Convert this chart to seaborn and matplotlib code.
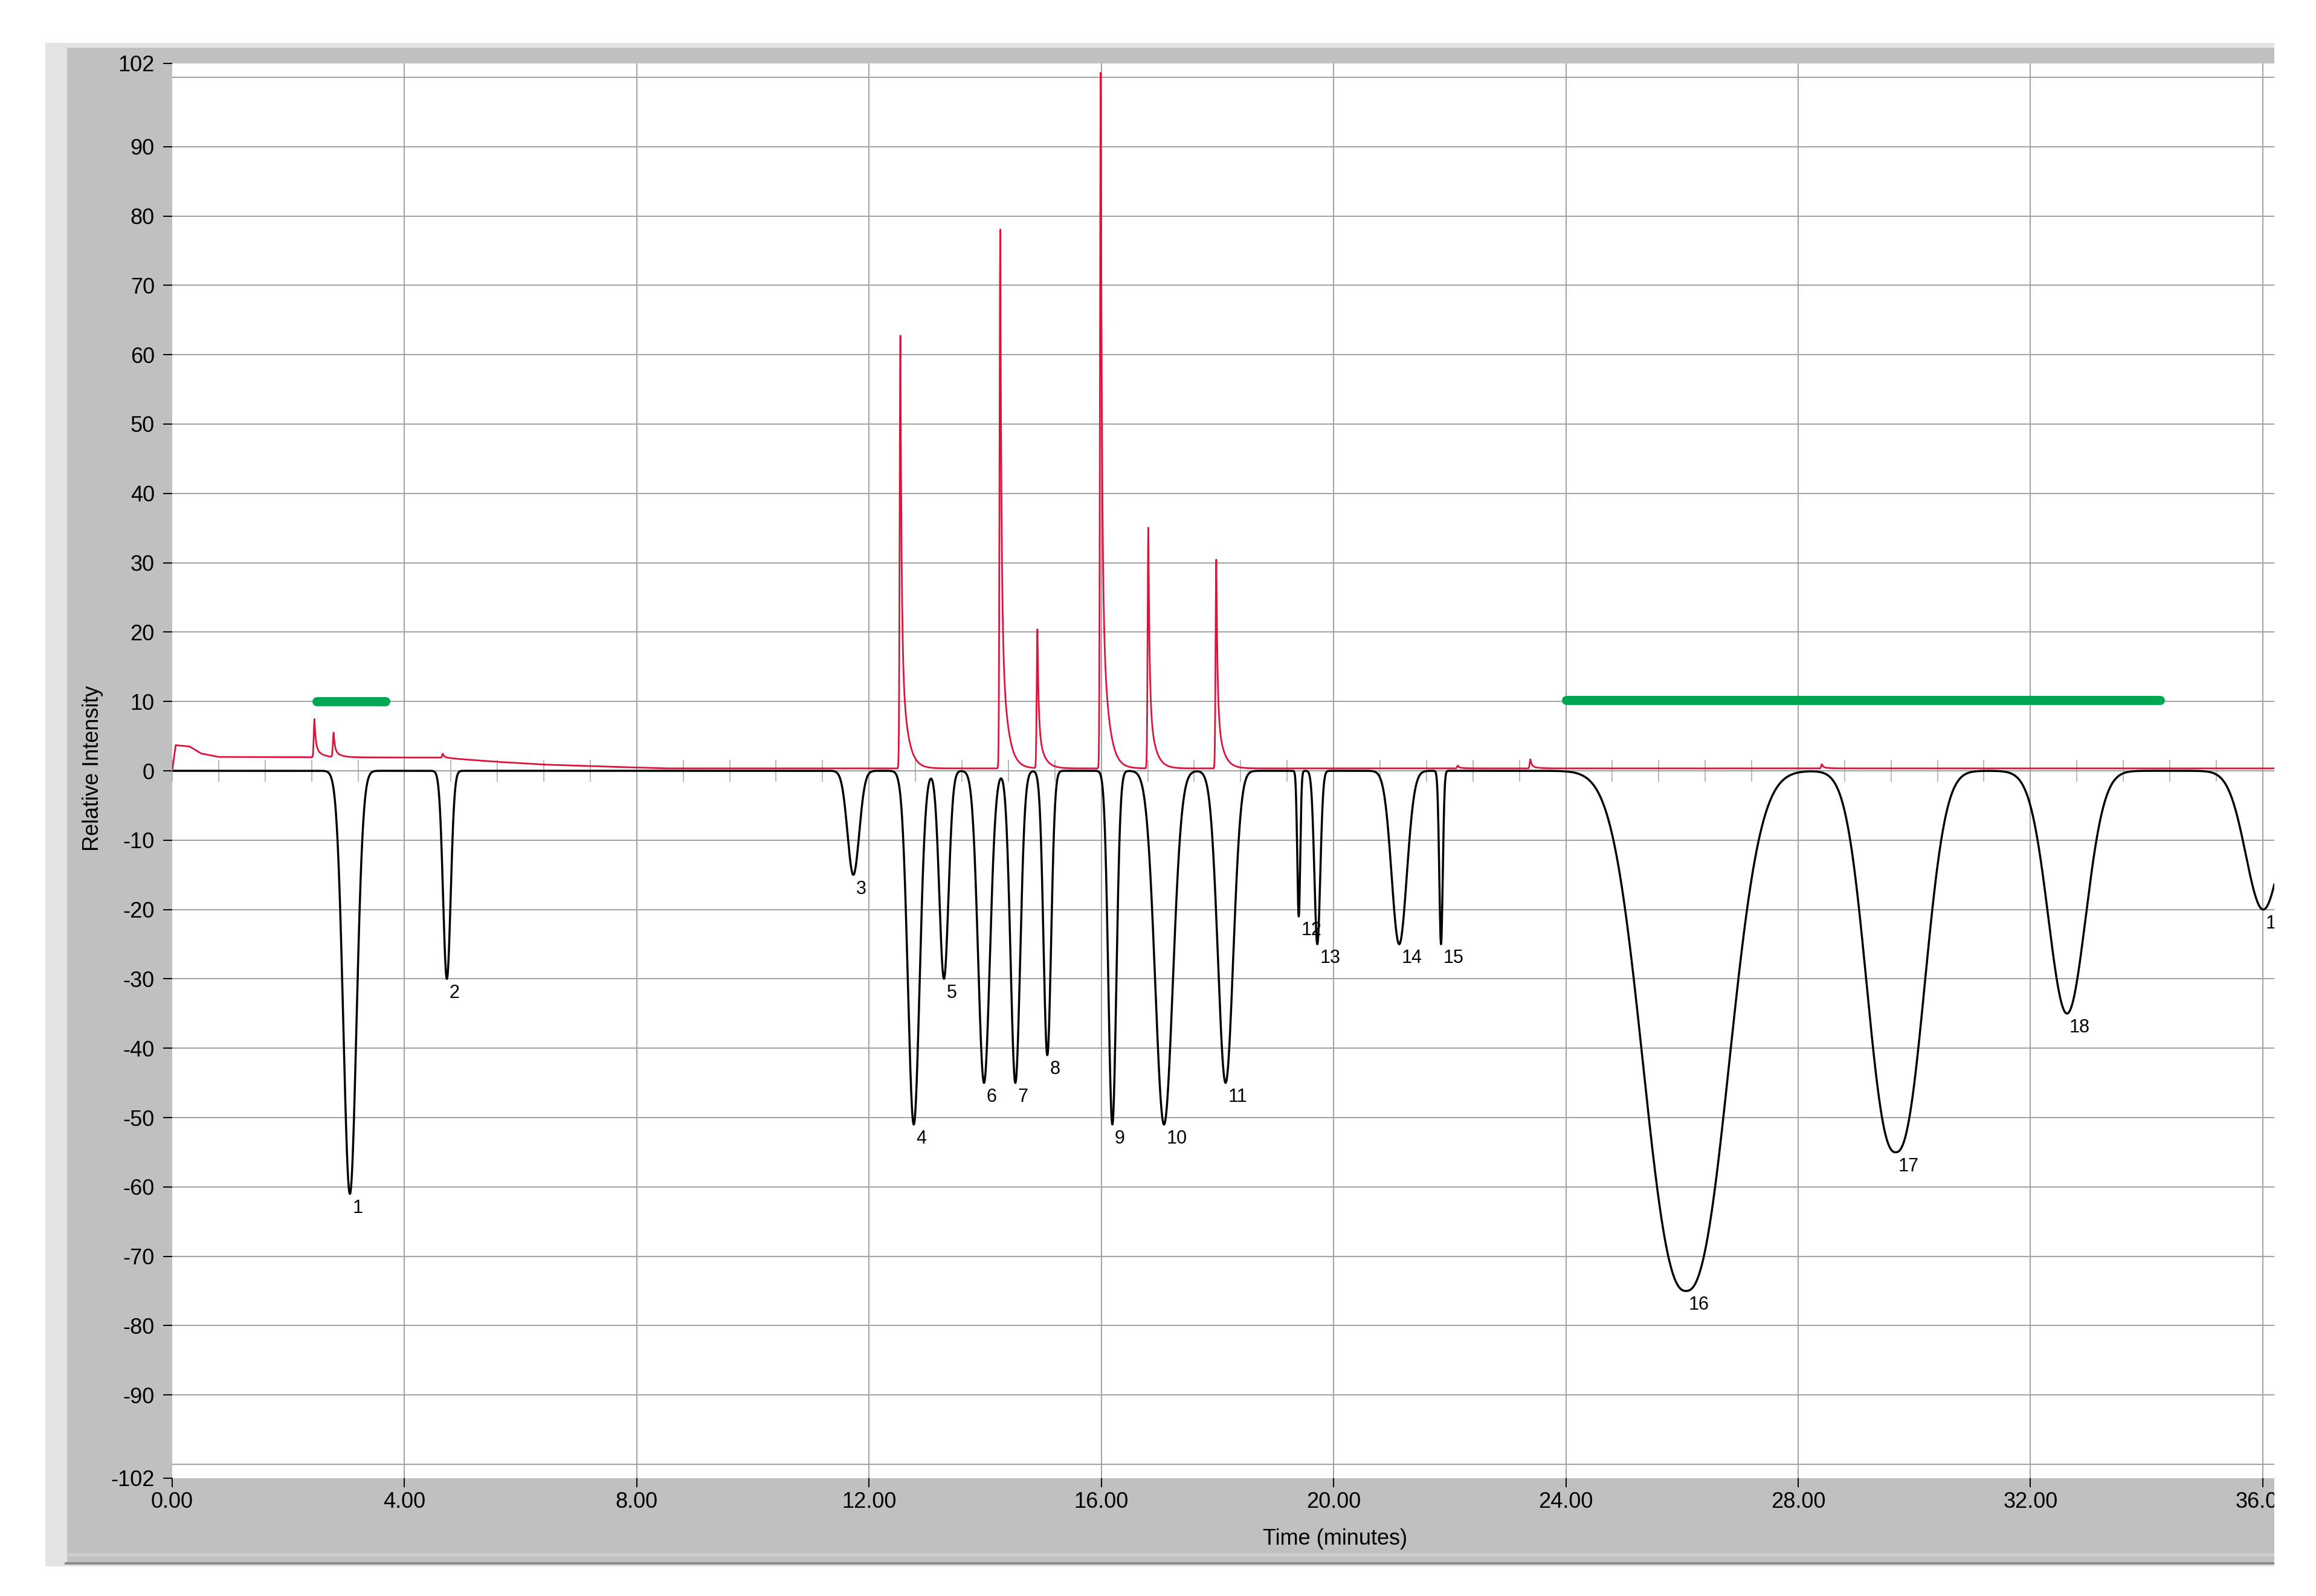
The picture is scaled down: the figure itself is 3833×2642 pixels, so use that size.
import numpy as np
import pandas as pd
import seaborn as sns
import matplotlib
matplotlib.use('Agg')
from matplotlib import pyplot as plt
from matplotlib import font_manager
from matplotlib.patches import Rectangle
from matplotlib.ticker import FixedLocator, FixedFormatter, MultipleLocator

# ---- data ----
# black trace: inverted, numbered peaks
peak_num = [str(i) for i in range(1, 20)]
peak_time = [3.06, 4.73, 11.73, 12.77, 13.29, 13.98, 14.52, 15.07, 16.19, 17.08,
             18.14, 19.40, 19.72, 21.13, 21.85, 26.07, 29.68, 32.63, 36.01]
peak_depth = [-61, -30, -15, -51, -30, -45, -45, -41, -51, -51,
              -45, -21, -25, -25, -25, -75, -55, -35, -20]
peak_width = [0.112, 0.065, 0.10, 0.10, 0.078, 0.10, 0.082, 0.065, 0.068, 0.15,
              0.13, 0.025, 0.05, 0.13, 0.03, 0.70, 0.47, 0.32, 0.30]
peak_shape = [2, 2, 2, 2, 2, 2, 2, 2, 2, 2,
              2, 2, 2, 2, 2, 2.4, 2.4, 2, 2]

# red trace: sharp tailing peaks on a drifting baseline
red_peak_time = [2.45, 2.78, 4.66, 12.54, 14.26, 14.90, 15.99, 16.81, 17.98, 22.14, 23.39, 28.41]
red_peak_height = [5.5, 3.5, 0.6, 62.4, 77.7, 20.0, 100.3, 34.7, 30.1, 0.4, 1.3, 0.6]
red_base_time = [0.0, 0.06, 0.30, 0.50, 0.80, 4.60, 5.60, 6.40, 7.50, 8.50, 36.2]
red_base_level = [0.0, 3.7, 3.5, 2.5, 2.0, 1.9, 1.3, 0.9, 0.6, 0.35, 0.35]

# green marker bars
bar_start = [2.49, 24.0]
bar_end = [3.67, 34.23]
bar_level = [10.0, 10.2]

# axes
x_ticks = [0, 4, 8, 12, 16, 20, 24, 28, 32, 36]
x_labels = ['0.00', '4.00', '8.00', '12.00', '16.00', '20.00', '24.00', '28.00', '32.00', '36.00']
y_ticks = [102, 90, 80, 70, 60, 50, 40, 30, 20, 10, 0, -10, -20, -30, -40, -50, -60, -70, -80, -90, -102]
y_grid = [100, 90, 80, 70, 60, 50, 40, 30, 20, 10, 0, -10, -20, -30, -40, -50, -60, -70, -80, -90, -100]

# ---- build the traces from the peak table ----
t = np.linspace(0, 36.2, 7241)
black = np.zeros_like(t)
for t0, a, s, p in zip(peak_time, peak_depth, peak_width, peak_shape):
    black += a * np.exp(-0.5 * np.abs((t - t0) / s) ** p)

red = np.interp(t, red_base_time, red_base_level)
for t0, h in zip(red_peak_time, red_peak_height):
    d = t - t0
    dp = np.clip(d, 0, None)
    rise = np.exp(-0.5 * (np.clip(d, None, 0) / 0.012) ** 2)
    tail = 0.7 * np.exp(-dp / 0.02) + 0.3 * np.exp(-dp / 0.1)
    red += h * np.where(d < 0, rise, tail)

traces = pd.DataFrame({'time': t, 'black': black, 'red': red})

# ---- style ----
sns.set_theme(style='white')
names = {f.name for f in font_manager.fontManager.ttflist}
narrow = 'Liberation Sans Narrow' in names
axis_font = 'Liberation Sans Narrow' if narrow else 'Liberation Sans'
axis_size = 30 if narrow else 26
plt.rcParams['font.family'] = [axis_font, 'DejaVu Sans']
plt.rcParams['axes.unicode_minus'] = False

W, H = 3833, 2642
fig = plt.figure(figsize=(W / 100, H / 100), dpi=100, facecolor='white')


def rect(x0, y0, x1, y1, color, z):
    r = Rectangle((x0 / W, 1 - y1 / H), (x1 - x0) / W, (y1 - y0) / H,
                  transform=fig.transFigure, facecolor=color, edgecolor='none', zorder=z)
    fig.add_artist(r)


# window frame
rect(75, 71, 3764, 2593, '#e3e3e3', -10)
rect(111, 79, 3764, 2586, '#c0c0c0', -9)
rect(111, 2571, 3764, 2577, '#cdcdcd', -8)
rect(107, 2586, 3764, 2590, '#8a8a8a', -8)

ax = fig.add_axes([285 / W, 1 - 2447 / H, (3764 - 285) / W, (2447 - 105) / H])
ax.set_facecolor('white')
for s in ax.spines.values():
    s.set_visible(False)

for yv in y_grid:
    ax.axhline(yv, color='#a4a4a4', lw=1.5, zorder=0.5)
for xv in x_ticks[1:]:
    ax.axvline(xv, color='#a4a4a4', lw=1.5, zorder=0.5)

sns.lineplot(data=traces, x='time', y='black', ax=ax, color='black', lw=2.5,
             estimator=None, errorbar=None, sort=False, zorder=2)
sns.lineplot(data=traces, x='time', y='red', ax=ax, color='#dc143c', lw=2.0,
             estimator=None, errorbar=None, sort=False, zorder=3)

for x0, x1, yv in zip(bar_start, bar_end, bar_level):
    ax.plot([x0, x1], [yv, yv], color='#00a651', lw=10.8, solid_capstyle='round', zorder=4)

for lab, t0, dv in zip(peak_num, peak_time, peak_depth):
    ax.annotate(lab, xy=(t0, dv), xytext=(3, -6), textcoords='offset points',
                ha='left', va='top', fontsize=22, family=['Liberation Sans', 'DejaVu Sans'],
                color='black', zorder=5)

ax.set_xlim(0, 36.2)
ax.set_ylim(-102, 102)
ax.xaxis.set_major_locator(FixedLocator(x_ticks))
ax.xaxis.set_major_formatter(FixedFormatter(x_labels))
ax.yaxis.set_major_locator(FixedLocator(y_ticks))
ax.yaxis.set_major_formatter(FixedFormatter([str(v) for v in y_ticks]))
ax.tick_params(axis='both', which='major', direction='out', length=11, width=1.4,
               color='black', labelsize=axis_size, labelcolor='black')
ax.tick_params(axis='y', pad=10, left=True)
ax.tick_params(axis='x', pad=5, bottom=True)
ax.grid(False)

# small ticks along the zero line
zero_axis = ax.secondary_xaxis(0.5)
zero_axis.xaxis.set_major_locator(MultipleLocator(0.8))
zero_axis.tick_params(direction='inout', length=26, width=1.1, color='#a4a4a4', labelbottom=False,
                      labeltop=False, labelsize=1)
zero_axis.spines['bottom'].set_visible(False)
zero_axis.spines['top'].set_visible(False)
zero_axis.set_zorder(1)

ax.set_xlabel('Time (minutes)', fontsize=axis_size, color='black')
ax.set_ylabel('Relative Intensity', fontsize=axis_size, color='black')
ax.xaxis.label.set_va('center')
ax.yaxis.label.set_va('center')
ax.xaxis.set_label_coords(0.5533, -0.0431)
ax.yaxis.set_label_coords(-0.0377, 0.502)

# the capture is cut off at the right edge
rect(3764, 0, W, H, 'white', 20)

fig.savefig('out.png', dpi=100, facecolor='white')
